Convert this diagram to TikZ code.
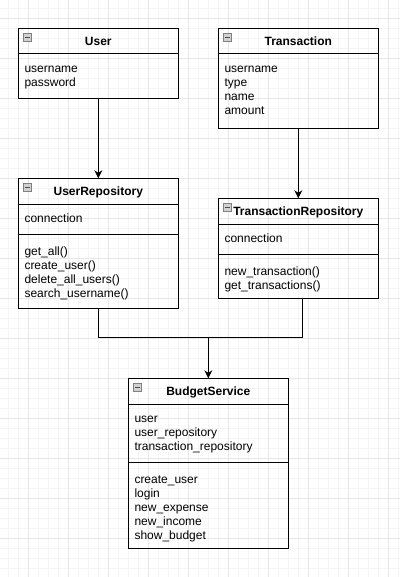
\documentclass[tikz,border=0pt]{standalone}
\usepackage{fontspec}
\setmainfont{Liberation Sans}
\usetikzlibrary{positioning,arrows.meta}

\definecolor{gridminor}{HTML}{F4F4F4}
\definecolor{gridmajor}{HTML}{E6E6E6}

\tikzset{
    classhead/.style={draw, line width=1pt, outer sep=0pt, inner sep=0pt, minimum width=160pt, minimum height=25.7pt, font=\fontsize{12}{14}\selectfont\bfseries, text height=8.6pt, text depth=0pt},
    classpart/.style={draw, line width=1pt, outer sep=0pt, inner sep=0pt, minimum width=160pt},
    members/.style={inner sep=0pt, align=left, font=\fontsize{12}{14}\selectfont},
    minus/.style={draw=black!50, fill=black!18, line width=0.6pt, minimum size=8pt, inner sep=0pt, outer sep=0pt,
        path picture={\draw[black!70, line width=0.8pt] ([xshift=1.5pt]path picture bounding box.west) -- ([xshift=-1.5pt]path picture bounding box.east);}},
    link/.style={line width=1pt},
}

\begin{document}
\begin{tikzpicture}[x=1pt, y=-1pt]
    \useasboundingbox[fill=white] (0,0) rectangle (400,577);
    % grid
    \foreach \g in {0,10,...,390} \draw[gridminor, line width=0.8pt] (\g+8.3,0) -- (\g+8.3,577);
    \foreach \g in {0,10,...,560} \draw[gridminor, line width=0.8pt] (0,\g+8.3) -- (400,\g+8.3);
    \foreach \g in {0,40,...,360} \draw[gridmajor, line width=0.8pt] (\g+28.3,0) -- (\g+28.3,577);
    \foreach \g in {0,40,...,520} \draw[gridmajor, line width=0.8pt] (0,\g+18.3) -- (400,\g+18.3);

    % User
    \node[classhead, anchor=north west] (user) at (18.3,28.3) {User};
    \node[classpart, minimum height=44.3pt, below=0pt of user] (user-fields) {};
    \node[members, below right=8.4pt and 6pt of user-fields.north west] (user-attrs) {\strut username\\password};

    % Transaction
    \node[classhead, anchor=north west] (trans) at (218.3,28.3) {Transaction};
    \node[classpart, minimum height=74.3pt, below=0pt of trans] (trans-fields) {};
    \node[members, below right=8.4pt and 6pt of trans-fields.north west] (trans-attrs) {\strut username\\type\\name\\amount};

    % UserRepository
    \node[classhead, below=80pt of user-fields] (urepo) {UserRepository};
    \node[classpart, minimum height=30.3pt, below=0pt of urepo] (urepo-fields) {};
    \node[classpart, minimum height=73.7pt, below=0pt of urepo-fields] (urepo-methods) {};
    \node[members, below right=8.4pt and 6pt of urepo-fields.north west] (urepo-attrs) {\strut connection};
    \node[members, below right=11.2pt and 6pt of urepo-methods.north west] (urepo-ops) {\strut get\_all()\\create\_user()\\delete\_all\_users()\\search\_username()};

    % TransactionRepository
    \node[classhead, below=70pt of trans-fields] (trepo) {TransactionRepository};
    \node[classpart, minimum height=30.3pt, below=0pt of trepo] (trepo-fields) {};
    \node[classpart, minimum height=43.7pt, below=0pt of trepo-fields] (trepo-methods) {};
    \node[members, below right=8.4pt and 6pt of trepo-fields.north west] (trepo-attrs) {\strut connection};
    \node[members, below right=11.2pt and 6pt of trepo-methods.north west] (trepo-ops) {\strut new\_transaction()\\get\_transactions()};

    % BudgetService
    \node[classhead, anchor=north west] (budget) at (128.3,378.3) {BudgetService};
    \node[classpart, minimum height=58.3pt, below=0pt of budget] (budget-fields) {};
    \node[classpart, minimum height=86pt, below=0pt of budget-fields] (budget-methods) {};
    \node[members, below right=8.4pt and 6pt of budget-fields.north west] (budget-attrs) {\strut user\\user\_repository\\transaction\_repository};
    \node[members, below right=11.2pt and 6pt of budget-methods.north west] (budget-ops) {\strut create\_user\\login\\new\_expense\\new\_income\\show\_budget};

    \foreach \c in {user,trans,urepo,trepo,budget}
        \node[minus, below right=5pt and 5pt of \c.north west] (\c-icon) {};

    % connectors
    \coordinate (join) at (208.3,337.5);
    \draw[link, -{Stealth[length=8pt, width=8pt, inset=2.5pt]}] (user-fields) -- (urepo);
    \draw[link, -{Stealth[length=8pt, width=8pt, inset=2.5pt]}] (trans-fields) -- (trepo);
    \draw[link] (urepo-methods.south) |- (join);
    \draw[link] ([xshift=4pt]trepo-methods.south) |- (join);
    \draw[link, -{Stealth[length=8pt, width=8pt, inset=2.5pt]}] (join) -- (budget);
\end{tikzpicture}
\end{document}
